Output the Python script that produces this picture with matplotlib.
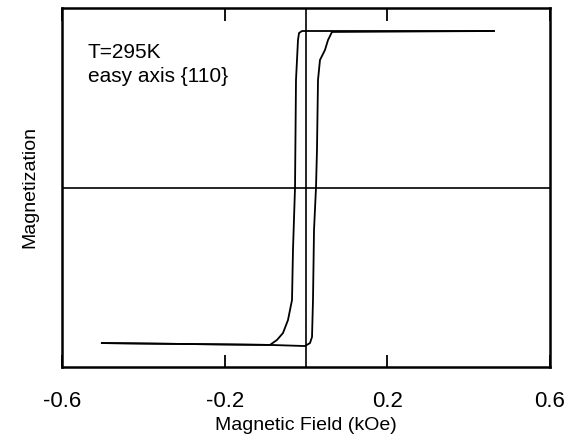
import matplotlib
matplotlib.use("Agg")
import matplotlib.pyplot as plt

plt.rcParams['font.family'] = ['Liberation Sans', 'DejaVu Sans']

# Descending branch (field swept from + to -)
desc_field = [0.462, -0.0098, -0.0172, -0.0197, -0.0246, -0.027, -0.032, -0.0344,
              -0.0443, -0.0566, -0.0713, -0.0885, -0.502]
desc_mag = [1.0, 1.0, 0.987, 0.942, 0.687, 0.0, -0.399, -0.719,
            -0.847, -0.93, -0.974, -1.006, -0.994]

# Ascending branch (field swept from - to +)
asc_field = [-0.502, -0.0885, -0.0025, 0.0098, 0.0148, 0.0172, 0.0197, 0.0246,
             0.027, 0.0295, 0.0344, 0.0467, 0.0541, 0.0639, 0.462]
asc_mag = [-0.994, -1.006, -1.013, -0.994, -0.955, -0.719, -0.272, 0.0,
           0.24, 0.687, 0.815, 0.879, 0.942, 0.994, 1.0]

xticks = [-0.6, -0.2, 0.2, 0.6]
xticklabels = ["-0.6", "-0.2", "0.2", "0.6"]

fig = plt.figure(figsize=(5.79, 4.40), dpi=100)
ax = fig.add_axes([62/579, 73/440, 488/579, 359/440])

ax.plot(desc_field, desc_mag, color='black', lw=1.3)
ax.plot(asc_field, asc_mag, color='black', lw=1.3)
ax.axhline(0, color='black', lw=1.2)
ax.axvline(0, color='black', lw=1.2)

ax.set_xlim(-0.6, 0.6)
ax.set_ylim(-1.147, 1.147)
ax.set_xticks(xticks)
ax.set_xticklabels(xticklabels, fontsize=16)
ax.set_yticks([])
ax.tick_params(axis='x', direction='in', length=9, width=1.3, top=True, pad=17)
for s in ax.spines.values():
    s.set_linewidth(1.8)

ax.set_xlabel("Magnetic Field (kOe)", fontsize=14, labelpad=4)
ax.set_ylabel("Magnetization", fontsize=14, labelpad=17)

ax.text(0.053, 0.902, "T=295K\neasy axis {110}", transform=ax.transAxes,
        fontsize=15, va='top', ha='left', linespacing=1.3)

fig.savefig("out.png", dpi=100)
